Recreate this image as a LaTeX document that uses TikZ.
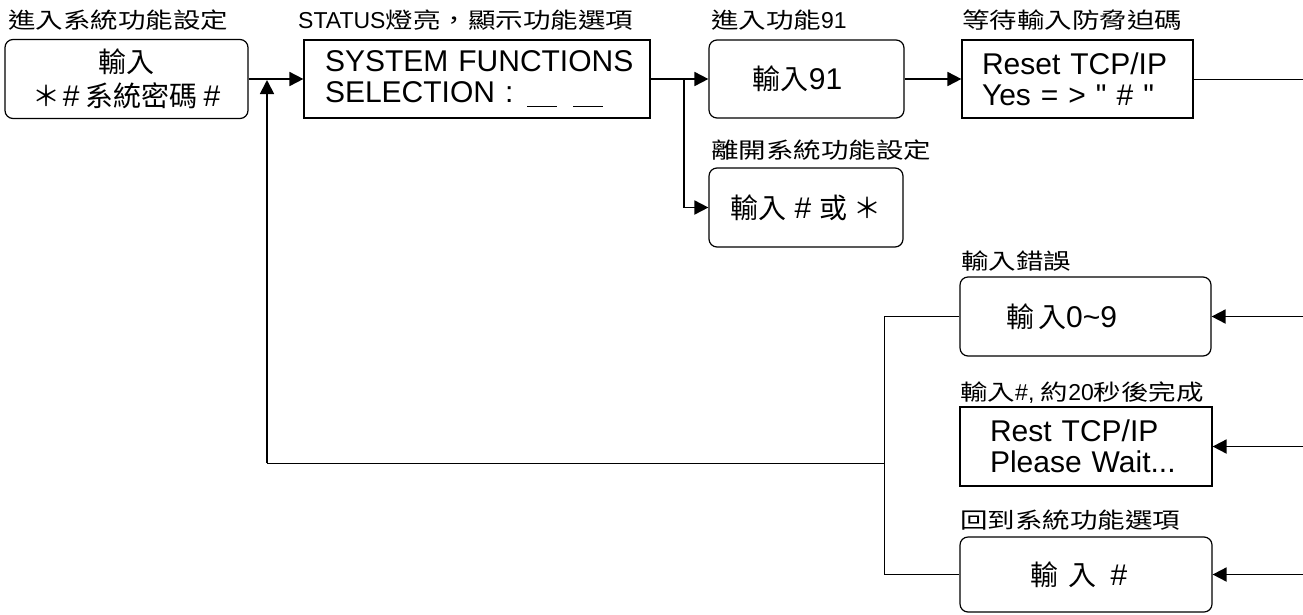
\documentclass[tikz,border=0pt]{standalone}
\usepackage{fontspec}
\setmainfont{Liberation Sans}
\newfontfamily\cjk{Noto Sans CJK TC}
\newfontfamily\cjkw[FakeStretch=1.25]{Noto Sans CJK TC}
\usetikzlibrary{arrows.meta,calc}
\newcommand{\labfont}{\fontsize{23}{26}\selectfont}
\newcommand{\boxfont}{\fontsize{30}{31}\selectfont}
\newcommand{\bc}[1]{{\fontsize{28}{31}\cjk #1}}
\newcommand{\lc}[1]{{\fontsize{22}{26}\cjkw #1}}
\tikzset{
  rbox/.style={draw, line width=1.2pt, rounded corners=8pt, inner sep=0pt, font=\boxfont, align=center},
  sbox/.style={draw, line width=1.2pt, inner sep=0pt, font=\boxfont, align=center},
  lab/.style={anchor=base west, inner sep=0pt, font=\labfont},
  thickarrow/.style={line width=1.8pt, -{Triangle[length=14pt,width=14pt]}},
  thickline/.style={line width=1.8pt},
  medline/.style={line width=1.2pt},
  thinline/.style={line width=0.9pt},
}
\begin{document}
\begin{tikzpicture}[x=1pt,y=-1pt]
\useasboundingbox (0,0) rectangle (1303,614);
% boxes
\node[rbox, minimum width=243pt, minimum height=79pt] (b1) at (126.5,79)
  {\bc{輸入}\\[3pt]\bc{＊}\hspace{2pt}\#\hspace{6pt}\bc{系統密碼}\hspace{6pt}\#};
\node[sbox, minimum width=346pt, minimum height=78pt, inner xsep=21pt, text width=304pt, align=left] (b2) at (477,79)
  {\mbox{SYSTEM FUNCTIONS}\\\mbox{SELECTION :\hspace{14pt}\rule[-4pt]{30pt}{1.2pt}\hspace{16pt}\rule[-4pt]{30pt}{1.2pt}}};
\node[rbox, minimum width=195pt, minimum height=78pt] (b3) at (806.5,79)
  {\bc{輸入}91\hspace*{18pt}};
\node[rbox, minimum width=194pt, minimum height=79pt] (b4) at (806,207.5)
  {\bc{輸入}\hspace{8pt}\#\hspace{8pt}\bc{或}\hspace{6pt}\bc{＊}};
\node[sbox, minimum width=231pt, minimum height=78pt, inner xsep=20pt, text width=191pt, align=left] (b5) at (1077.5,79)
  {\mbox{Reset TCP/IP}\\\mbox{Yes = > \textquotedbl\ \# \textquotedbl}};
\node[rbox, minimum width=251pt, minimum height=79pt] (b6) at (1085.5,316.5)
  {\bc{輸}\hspace{4pt}\bc{入}0\textasciitilde 9\hspace*{48pt}};
\node[sbox, minimum width=252pt, minimum height=79pt, inner xsep=30pt, text width=192pt, align=left] (b7) at (1086,446.5)
  {\mbox{Rest TCP/IP}\\\mbox{Please Wait...}};
\node[rbox, minimum width=252pt, minimum height=75pt] (b8) at (1086,574.5)
  {\bc{輸}\hspace{10pt}\bc{入}\hspace{14pt}\#\hspace*{14pt}};
% labels
\node[lab] (l1) at (8,28) {\lc{進入系統功能設定}};
\node[lab] (l2) at (298,28) {STATUS\lc{燈亮，顯示功能選項}};
\node[lab] (l3) at (711,28) {\lc{進入功能}91};
\node[lab] (l4) at (711,158) {\lc{離開系統功能設定}};
\node[lab] (l5) at (962,28) {\lc{等待輸入防脅迫碼}};
\node[lab] (l6) at (961,269) {\lc{輸入錯誤}};
\node[lab] (l7) at (960,400) {\lc{輸入}\#, \lc{約}20\lc{秒後完成}};
\node[lab] (l8) at (960,528) {\lc{回到系統功能選項}};
% coordinates
\coordinate (j1) at (267,80);
\coordinate (br) at (684,79);
\coordinate (br2) at (684,207.5);
\coordinate (e5) at (1303,79);
\coordinate (e6) at (1303,316.5);
\coordinate (e7) at (1303,446.5);
\coordinate (e8) at (1303,574.5);
\coordinate (c6) at (884,316.5);
\coordinate (c8) at (884,574.5);
\coordinate (cm) at (884,463);
\coordinate (cl) at (267,463);
% connectors
\draw[thickarrow] (b1.east) -- (b2.west);
\draw[thickline] (b2.east) -- (br);
\draw[thickarrow] (br) -- (b3.west);
\draw[medline] (br) -- (br2);
\draw[thickarrow] (br2) -- (b4.west);
\draw[thickarrow] (b3.east) -- (b5.west);
\draw[thinline] (b5.east) -- (e5);
\draw[thickarrow] (e6) -- (b6.east);
\draw[thickarrow] (e7) -- (b7.east);
\draw[thickarrow] (e8) -- (b8.east);
\draw[thinline] (b6.west) -- (c6) -- (c8) -- (b8.west);
\draw[thinline] (cm) -- (cl);
\draw[thickarrow] (cl) -- (j1);
\end{tikzpicture}
\end{document}
